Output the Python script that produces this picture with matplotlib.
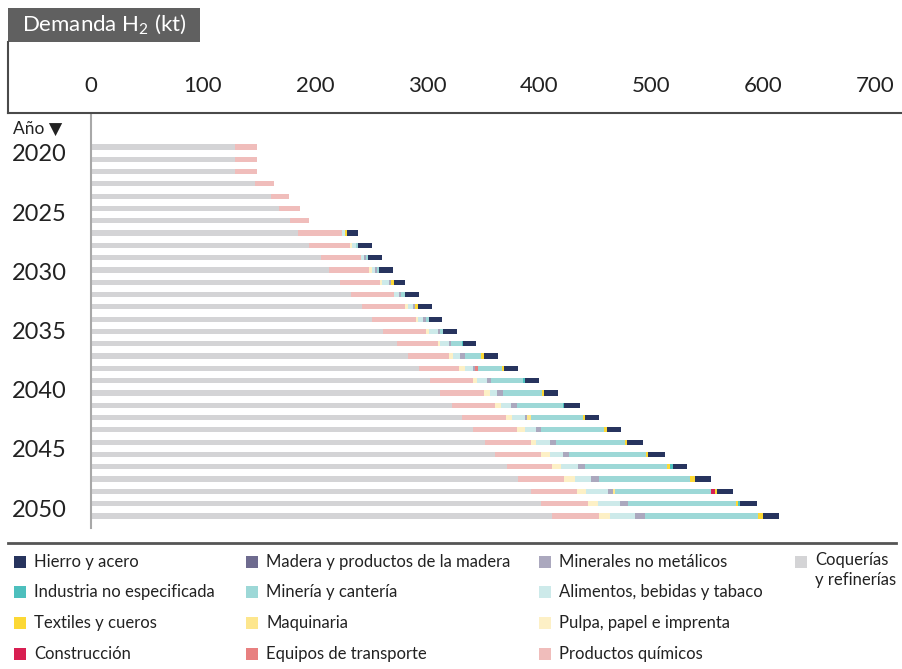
import numpy as np
import matplotlib
matplotlib.use("Agg")
import matplotlib.pyplot as plt
from matplotlib.patches import Rectangle
from matplotlib.lines import Line2D
import matplotlib.transforms as mtransforms

plt.rcParams['font.family'] = ['Lato', 'DejaVu Sans']
plt.rcParams['mathtext.default'] = 'regular'

years = list(range(2020, 2051))
year_labels = [2020, 2025, 2030, 2035, 2040, 2045, 2050]
x_ticks = [0, 100, 200, 300, 400, 500, 600, 700]

# kt de H2 por sector, 2020..2050
coque = [129, 129, 129, 146, 161, 168, 178, 185, 195, 205, 212.5, 222, 232, 242, 251, 261,
         273, 283, 293, 303, 312, 322, 331.5, 341.5, 351.5, 361, 371, 381, 393, 402, 412]
quimicos = [19, 19, 19, 17, 16, 19, 17, 39, 36, 36, 36, 36, 38.5, 38.5, 39, 38.5,
            36.5, 36.5, 36, 38.5, 38.5, 38.5, 39, 39, 41, 41, 41, 41, 41, 41.5, 41.5]
pulpa = [0] * 7 + [0, 2, 0, 2, 1.8, 0, 2.4, 2, 2.4, 2, 3.8, 5.1, 2.7, 5.4, 5.4, 5.1,
                   7.4, 4.7, 7.4, 7.8, 10.4, 7.8, 9.6, 9.8]
alimentos = [0] * 7 + [3, 3.3, 2.4, 3, 6.2, 4.7, 4.8, 4.8, 7.7, 7.8, 6.3, 7.1, 9.5, 6.8, 9.5,
                       11.9, 9.5, 12.5, 11.9, 14.6, 14.3, 19.6, 19.6, 22]
minerales = [0] * 7 + [0, 0, 1.8, 2, 1.8, 1.5, 2, 2, 1.8, 2, 4.7, 1.8, 3, 5.4, 4.8,
                       2, 4.5, 5.1, 5.1, 6.9, 7.1, 4.7, 7.1, 9.2]
madera = [0] * 31
equipos = [0] * 18 + [2.5] + [0] * 12
maquinaria = [0] * 22 + [3] + [0] * 5 + [1.8, 0, 0]
mineria = [0] * 7 + [0, 2, 2, 2, 0, 3.3, 0, 2.7, 2.7, 10.2, 14.3, 21.2, 28.6, 34.2, 41.1,
                     46.4, 56.3, 61.6, 68.8, 73.2, 81.3, 85.7, 96.1, 100.6]
construccion = [0] * 28 + [3.3, 0, 0]
textiles = [0] * 7 + [1.3, 0, 0, 0, 2.7, 0, 2.4, 0, 0, 0, 2.4, 2, 0, 1.8, 0,
                      2, 2.7, 1.8, 1.8, 2.7, 4.5, 1.8, 1.8, 4.7]
industria = [0] * 16 + [0.6, 0, 0, 1.8, 0, 0.9, 0, 0, 0, 0, 2.7, 0, 0, 2.1, 0]
hierro = [0] * 7 + [9.8, 12.2, 13, 12, 10, 12.5, 12.8, 12.2, 12.5, 11.3, 12.5, 12.5, 13.1, 12.5,
                    14.3, 12.8, 12.5, 14.3, 15.2, 12.2, 14.3, 14.6, 14.9, 14.9]

# orden de apilado (izquierda a derecha)
series = [
    ("Coquerías\ny refinerías", coque, "#d4d4d6"),
    ("Productos químicos", quimicos, "#f0bdbb"),
    ("Pulpa, papel e imprenta", pulpa, "#fdf0c6"),
    ("Alimentos, bebidas y tabaco", alimentos, "#cdeaea"),
    ("Minerales no metálicos", minerales, "#aba8be"),
    ("Madera y productos de la madera", madera, "#6e6b8f"),
    ("Equipos de transporte", equipos, "#e88080"),
    ("Maquinaria", maquinaria, "#fde68d"),
    ("Minería y cantería", mineria, "#9dd8d7"),
    ("Construcción", construccion, "#d81f52"),
    ("Textiles y cueros", textiles, "#fcd835"),
    ("Industria no especificada", industria, "#4dbfbd"),
    ("Hierro y acero", hierro, "#27345e"),
]
colors = {name: c for name, vals, c in series}

W, H = 902, 669
fig = plt.figure(figsize=(W / 100, H / 100), dpi=100)
ax = fig.add_axes([91 / W, 1 - 528 / H, (W - 91) / W, (528 - 115) / H])

ypos = np.arange(len(years))
left = np.zeros(len(years))
for name, vals, c in series:
    vals = np.array(vals, dtype=float)
    ax.barh(ypos, vals, left=left, height=0.42, color=c, linewidth=0)
    left += vals

ax.set_xlim(0, (W - 91) / 1.12)
ax.set_ylim(len(years) - 1 + 0.98, -2.6)
ax.xaxis.tick_top()
ax.set_xticks(x_ticks)
ax.set_xticklabels([str(t) for t in x_ticks])
ax.tick_params(axis='x', length=0, pad=14, labelsize=16, colors='#222222')
ax.set_yticks([])
for s in ['top', 'right', 'bottom']:
    ax.spines[s].set_visible(False)
ax.spines['left'].set_color('#a8a8a8')
ax.spines['left'].set_linewidth(1.5)

# etiquetas de años a la izquierda (espaciado un poco más corto que las barras)
trans = mtransforms.blended_transform_factory(fig.transFigure, ax.transData)
for k, y in enumerate(year_labels):
    ax.text(12 / W, (8 + k * 59.2) / 12.3, str(y), transform=trans, fontsize=17,
            va='center', ha='left', color='#222222')
fig.text(13 / W, 1 - 129 / H, "Año ▼", fontsize=12.5, va='center', ha='left', color='#222222')

# caja del título
fig.add_artist(Rectangle((8 / W, 1 - 42 / H), 192 / W, 34 / H, transform=fig.transFigure,
                         facecolor='#606060', edgecolor='none'))
fig.text(22 / W, 1 - 24 / H, r"Demanda $\mathregular{H_2}$ (kt)", fontsize=16,
         color='white', va='center', ha='left')
fig.add_artist(Line2D([8 / W, 1], [1 - 113 / H, 1 - 113 / H], transform=fig.transFigure,
                      color='#4a4a4a', lw=1.5))
fig.add_artist(Line2D([8 / W, 8 / W], [1 - 42 / H, 1 - 113 / H], transform=fig.transFigure,
                      color='#4a4a4a', lw=1.5))

# leyenda
fig.add_artist(Line2D([8 / W, 896 / W], [1 - 543 / H, 1 - 543 / H], transform=fig.transFigure,
                      color='#555555', lw=2))
legend_cols = [
    (14, ["Hierro y acero", "Industria no especificada", "Textiles y cueros", "Construcción"]),
    (246, ["Madera y productos de la madera", "Minería y cantería", "Maquinaria", "Equipos de transporte"]),
    (539, ["Minerales no metálicos", "Alimentos, bebidas y tabaco", "Pulpa, papel e imprenta", "Productos químicos"]),
    (795, ["Coquerías\ny refinerías"]),
]
row_y = [562, 592, 623, 654]
for x0, names in legend_cols:
    for name, yc in zip(names, row_y):
        fig.add_artist(Rectangle((x0 / W, 1 - (yc + 6) / H), 12 / W, 12 / H,
                                 transform=fig.transFigure, facecolor=colors[name],
                                 edgecolor='none'))
        if "\n" in name:
            fig.text((x0 + 20) / W, 1 - (yc - 10) / H, name, fontsize=12, va='top',
                     ha='left', color='#222222', linespacing=1.3)
        else:
            fig.text((x0 + 20) / W, 1 - yc / H, name, fontsize=12, va='center',
                     ha='left', color='#222222')

plt.savefig("out.png", dpi=100)
